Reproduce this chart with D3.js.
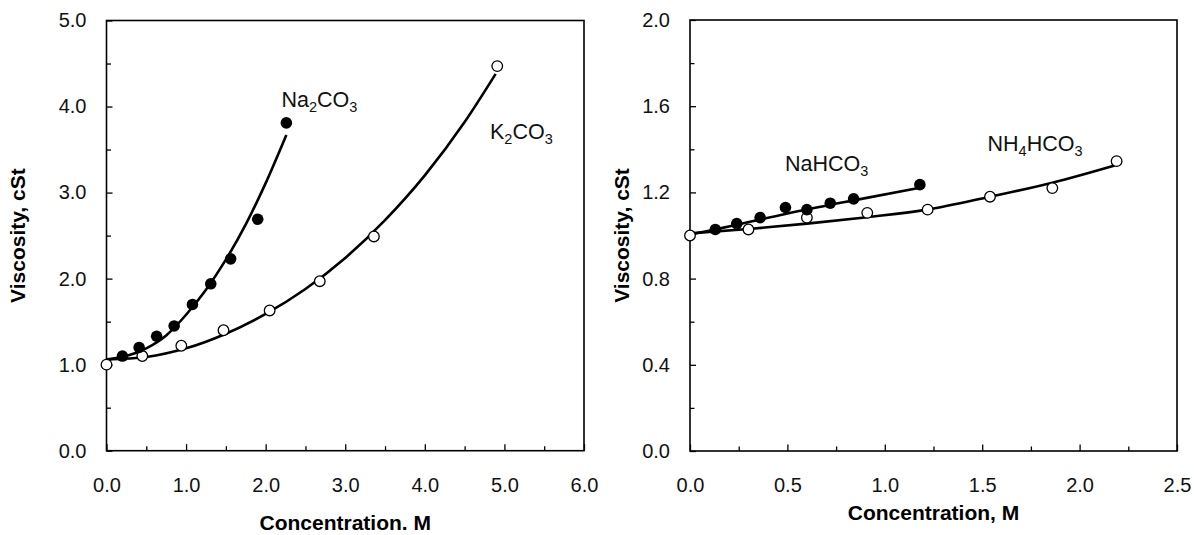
<!DOCTYPE html>
<html>
<head>
<meta charset="utf-8">
<script src="https://cdn.jsdelivr.net/npm/d3@7"></script>
<style>
  body { margin: 0; background: #fff; }
  svg { display: block; font-family: 'Liberation Sans', Arial, sans-serif; }
</style>
</head>
<body>
<div id="chart"></div>
<script>
// --- lijevi panel: karbonati ---
const na2co3X = [0.20, 0.41, 0.63, 0.85, 1.08, 1.31, 1.56, 1.90, 2.26];
const na2co3Y = [1.10, 1.20, 1.33, 1.45, 1.70, 1.94, 2.23, 2.69, 3.81];
const k2co3X  = [0.00, 0.45, 0.94, 1.47, 2.05, 2.68, 3.36, 4.91];
const k2co3Y  = [1.00, 1.10, 1.22, 1.40, 1.63, 1.97, 2.49, 4.47];
// krivulje (trend) ocitane sa slike
const na2co3FitX = [0, 0.25, 0.50, 0.75, 1.00, 1.25, 1.50, 1.75, 2.00, 2.26];
const na2co3FitY = [1.06, 1.10, 1.19, 1.34, 1.58, 1.87, 2.22, 2.63, 3.11, 3.67];
const k2co3FitX  = [0, 0.5, 1.0, 1.5, 2.0, 2.5, 3.0, 3.5, 4.0, 4.5, 4.89];
const k2co3FitY  = [1.06, 1.09, 1.19, 1.36, 1.59, 1.88, 2.24, 2.68, 3.20, 3.82, 4.38];

// --- desni panel: bikarbonati ---
const nahco3X  = [0.13, 0.24, 0.36, 0.49, 0.60, 0.72, 0.84, 1.18];
const nahco3Y  = [1.028, 1.055, 1.083, 1.13, 1.12, 1.15, 1.17, 1.236];
const nh4hco3X = [0.00, 0.30, 0.60, 0.91, 1.22, 1.54, 1.86, 2.19];
const nh4hco3Y = [1.00, 1.028, 1.083, 1.105, 1.12, 1.18, 1.22, 1.345];
const nahco3FitX  = [0, 0.13, 0.49, 0.84, 1.17];
const nahco3FitY  = [1.005, 1.028, 1.10, 1.163, 1.22];
const nh4hco3FitX = [0, 0.30, 0.60, 0.91, 1.22, 1.54, 1.86, 2.18];
const nh4hco3FitY = [1.01, 1.03, 1.055, 1.085, 1.12, 1.18, 1.245, 1.325];

// --- osi ---
const leftXTicks  = [0, 1, 2, 3, 4, 5, 6];
const leftYTicks  = [0, 1, 2, 3, 4, 5];
const rightXTicks = [0, 0.5, 1.0, 1.5, 2.0, 2.5];
const rightYTicks = [0, 0.4, 0.8, 1.2, 1.6, 2.0];

const W = 1194, H = 535;
const svg = d3.select('#chart').append('svg').attr('width', W).attr('height', H);

const zip = (xs, ys) => xs.map((x, i) => [x, ys[i]]);
const mids = t => t.slice(1).map((v, i) => (v + t[i]) / 2);

/** Crta jedan panel: okvir, osi, krivulje, tocke, natpisi */
function drawPanel(p) {
  const x = d3.scaleLinear().domain([p.xTicks[0], p.xTicks[p.xTicks.length - 1]]).range([p.left, p.right]);
  const y = d3.scaleLinear().domain([p.yTicks[0], p.yTicks[p.yTicks.length - 1]]).range([p.bottom, p.top]);
  const g = svg.append('g');

  // minor ticks (bez oznaka)
  g.append('g').attr('transform', `translate(0,${p.bottom})`)
    .call(d3.axisBottom(x).tickValues(mids(p.xTicks)).tickSize(-4.5).tickFormat(''))
    .call(a => a.select('.domain').remove());
  g.append('g').attr('transform', `translate(${p.left},0)`)
    .call(d3.axisLeft(y).tickValues(mids(p.yTicks)).tickSize(-4.5).tickFormat(''))
    .call(a => a.select('.domain').remove());

  // glavne oznake
  const gx = g.append('g').attr('transform', `translate(0,${p.bottom})`)
    .call(d3.axisBottom(x).tickValues(p.xTicks).tickSize(-6.5).tickPadding(27).tickFormat(d3.format('.1f')))
    .call(a => a.select('.domain').remove());
  const gy = g.append('g').attr('transform', `translate(${p.left},0)`)
    .call(d3.axisLeft(y).tickValues(p.yTicks).tickSize(-6).tickPadding(20).tickFormat(d3.format('.1f')))
    .call(a => a.select('.domain').remove());
  [gx, gy].forEach(a => {
    a.attr('font-family', null).attr('font-size', null);
    a.selectAll('text').attr('font-size', 20).attr('fill', '#111');
  });
  g.selectAll('.tick line').attr('stroke', '#000').attr('stroke-width', 1.3);

  // okvir
  g.append('rect').attr('x', p.left).attr('y', p.top)
    .attr('width', p.right - p.left).attr('height', p.bottom - p.top)
    .attr('fill', 'none').attr('stroke', '#000').attr('stroke-width', 1.6);

  // naslovi osi
  g.append('text').attr('x', (p.left + p.right) / 2).attr('y', p.xTitleY)
    .attr('text-anchor', 'middle').attr('font-size', 21).attr('font-weight', 700).text(p.xTitle);
  g.append('text').attr('transform', `translate(${p.yTitleX},${(p.top + p.bottom) / 2}) rotate(-90)`)
    .attr('text-anchor', 'middle').attr('font-size', 21).attr('font-weight', 700).text('Viscosity, cSt');

  // krivulje
  const line = d3.line().x(d => x(d[0])).y(d => y(d[1])).curve(d3.curveMonotoneX);
  p.fits.forEach(f =>
    g.append('path').attr('d', line(f)).attr('fill', 'none').attr('stroke', '#000')
      .attr('stroke-width', 2.6).attr('stroke-linejoin', 'round')
  );

  // tocke — puni (filled) i prazni (open)
  p.series.forEach(s =>
    s.pts.forEach(([px, py]) =>
      g.append('circle').attr('cx', x(px)).attr('cy', y(py))
        .attr('r', s.filled ? 5.8 : 5.3)
        .attr('fill', s.filled ? '#000' : '#fff')
        .attr('stroke', '#000').attr('stroke-width', s.filled ? 0 : 1.3)
    )
  );

  // natpisi serija s indeksima
  p.labels.forEach(l => {
    const t = g.append('text').attr('x', l.x).attr('y', l.y).attr('font-size', 21.5).attr('fill', '#111');
    let down = false;
    l.parts.forEach(([txt, sub]) => {
      const dy = sub ? (down ? 0 : 5) : (down ? -5 : 0);
      down = !!sub;
      t.append('tspan').attr('dy', dy).attr('font-size', sub ? 14.5 : null).text(txt);
    });
  });
}

drawPanel({
  left: 106.5, right: 584, top: 20.5, bottom: 450.7,
  xTicks: leftXTicks, yTicks: leftYTicks,
  xTitle: 'Concentration. M', xTitleY: 530, yTitleX: 25,
  fits: [zip(na2co3FitX, na2co3FitY), zip(k2co3FitX, k2co3FitY)],
  series: [{ pts: zip(k2co3X, k2co3Y), filled: false }, { pts: zip(na2co3X, na2co3Y), filled: true }],
  labels: [
    { x: 281.5, y: 106.5, parts: [['Na'], ['2', 1], ['CO'], ['3', 1]] },
    { x: 490, y: 138.5, parts: [['K'], ['2', 1], ['CO'], ['3', 1]] }
  ]
});

drawPanel({
  left: 690, right: 1177, top: 20, bottom: 451,
  xTicks: rightXTicks, yTicks: rightYTicks,
  xTitle: 'Concentration, M', xTitleY: 520, yTitleX: 629,
  fits: [zip(nahco3FitX, nahco3FitY), zip(nh4hco3FitX, nh4hco3FitY)],
  series: [{ pts: zip(nh4hco3X, nh4hco3Y), filled: false }, { pts: zip(nahco3X, nahco3Y), filled: true }],
  labels: [
    { x: 785, y: 170.5, parts: [['NaHCO'], ['3', 1]] },
    { x: 987.5, y: 150.5, parts: [['NH'], ['4', 1], ['HCO'], ['3', 1]] }
  ]
});
</script>
</body>
</html>
